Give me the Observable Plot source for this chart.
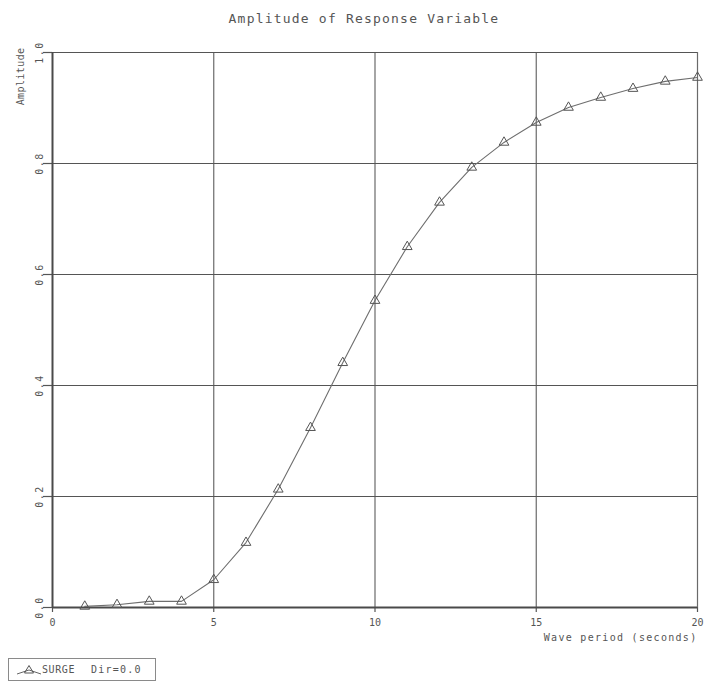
<!DOCTYPE html>
<html>
<head>
<meta charset="utf-8">
<script src="https://cdn.jsdelivr.net/npm/d3@7"></script>
<script src="https://cdn.jsdelivr.net/npm/@observablehq/plot@0.6"></script>
<style>
  html, body { margin: 0; padding: 0; background: #fff; }
  #wrap { position: relative; width: 706px; height: 683px; }
  #legend {
    position: absolute; left: 8px; top: 658px; width: 148px; height: 23px;
    border: 1px solid #8a8a8a; box-sizing: border-box;
    font: 10px "DejaVu Sans Mono", monospace; color: #555; letter-spacing: 0.6px;
    display: flex; align-items: center;
  }
  #legend svg { margin-left: 7px; margin-right: 0px; }
</style>
</head>
<body>
<div id="wrap"></div>
<script>
// Wave periods (s) and the surge response amplitude at each period
const periods = [1, 2, 3, 4, 5, 6, 7, 8, 9, 10, 11, 12, 13, 14, 15, 16, 17, 18, 19, 20];
const amplitude = [0.002, 0.005, 0.011, 0.011, 0.050, 0.117, 0.213, 0.324, 0.441, 0.553,
                   0.650, 0.730, 0.793, 0.838, 0.874, 0.901, 0.919, 0.935, 0.948, 0.955];
const xTicks = [0, 5, 10, 15, 20];
const yTicks = [0.0, 0.2, 0.4, 0.6, 0.8, 1.0];
const titleText = "Amplitude of Response Variable";
const xLabel = "Wave period (seconds)";
const yLabel = "Amplitude";
const seriesName = "SURGE";
const direction = "Dir=0.0";

const data = periods.map((p, i) => ({period: p, amp: amplitude[i]}));
const font = "DejaVu Sans Mono, monospace";
const ink = "#555";

const chart = Plot.plot({
  width: 706,
  height: 683,
  marginLeft: 52,
  marginRight: 9,
  marginTop: 52,
  marginBottom: 76,
  style: {fontFamily: font, fontSize: "10px", color: ink, background: "#fff"},
  x: {domain: [0, 20]},
  y: {domain: [0, 1]},
  marks: [
    // grid
    Plot.ruleX(xTicks.slice(1), {stroke: "#6a6a6a", strokeWidth: 1.2}),
    Plot.ruleY(yTicks.slice(1), {stroke: "#6a6a6a", strokeWidth: 1.2}),
    // axes with tick marks
    Plot.axisX({ticks: xTicks, tickSize: 5, tickPadding: 6, tickFormat: d => String(d),
                fontSize: 10, stroke: ink, strokeWidth: 1.2, label: null}),
    Plot.axisY({ticks: yTicks, tickSize: 9, tickFormat: () => "", stroke: ink, strokeWidth: 1.2, label: null}),
    Plot.tickY(yTicks, {y: d => d, x1: 0, x2: 0.22, stroke: ink, strokeWidth: 1.2}),
    Plot.text(yTicks, {y: d => d, frameAnchor: "left", dx: -13, rotate: -90, text: d => d.toFixed(1),
                       fontSize: 10, fill: ink, textAnchor: "middle", lineAnchor: "middle"}),
    Plot.ruleY([0], {stroke: "#4a4a4a", strokeWidth: 2}),
    Plot.ruleX([0], {stroke: "#4a4a4a", strokeWidth: 2}),
    // axis labels and title
    Plot.text([xLabel], {frameAnchor: "bottom-right", dy: 33, textAnchor: "end", fontSize: 10, fill: ink}),
    Plot.text([yLabel], {frameAnchor: "top-left", dx: -32, dy: -5, rotate: -90, textAnchor: "end",
                         fontSize: 10, fill: ink, lineAnchor: "middle"}),
    Plot.text([titleText], {frameAnchor: "top", dx: -11, dy: -34, fontSize: 13, fill: ink, lineAnchor: "middle"}),
    // response curve with open triangle markers
    Plot.line(data, {x: "period", y: "amp", stroke: "#6e6e6e", strokeWidth: 1.1}),
    Plot.dot(data, {x: "period", y: "amp", symbol: "triangle", r: 3.6, fill: "none", stroke: "#555", strokeWidth: 1})
  ]
});

// widen the character spacing of the plotter-style lettering
const spacing = new Map([[titleText, "1.2px"], [xLabel, "1.3px"], [yLabel, "0.4px"]]);
yTicks.forEach(t => spacing.set(t.toFixed(1), "1.5px"));
chart.querySelectorAll("text").forEach(t => {
  const s = spacing.get(t.textContent);
  if (s) t.style.letterSpacing = s;
});
document.getElementById("wrap").appendChild(chart);

// legend entry
const legend = document.createElement("div");
legend.id = "legend";
legend.innerHTML =
  `<svg width="26" height="12" viewBox="0 0 26 12">
     <path d="M1 10 L13 6 L25 10" fill="none" stroke="#666" stroke-width="1"/>
     <path d="M13 1.5 L17.5 9 L8.5 9 Z" fill="none" stroke="#555" stroke-width="1"/>
   </svg><span>${seriesName}</span><span style="margin-left:16px;letter-spacing:1.2px">${direction}</span>`;
document.getElementById("wrap").appendChild(legend);
</script>
</body>
</html>
